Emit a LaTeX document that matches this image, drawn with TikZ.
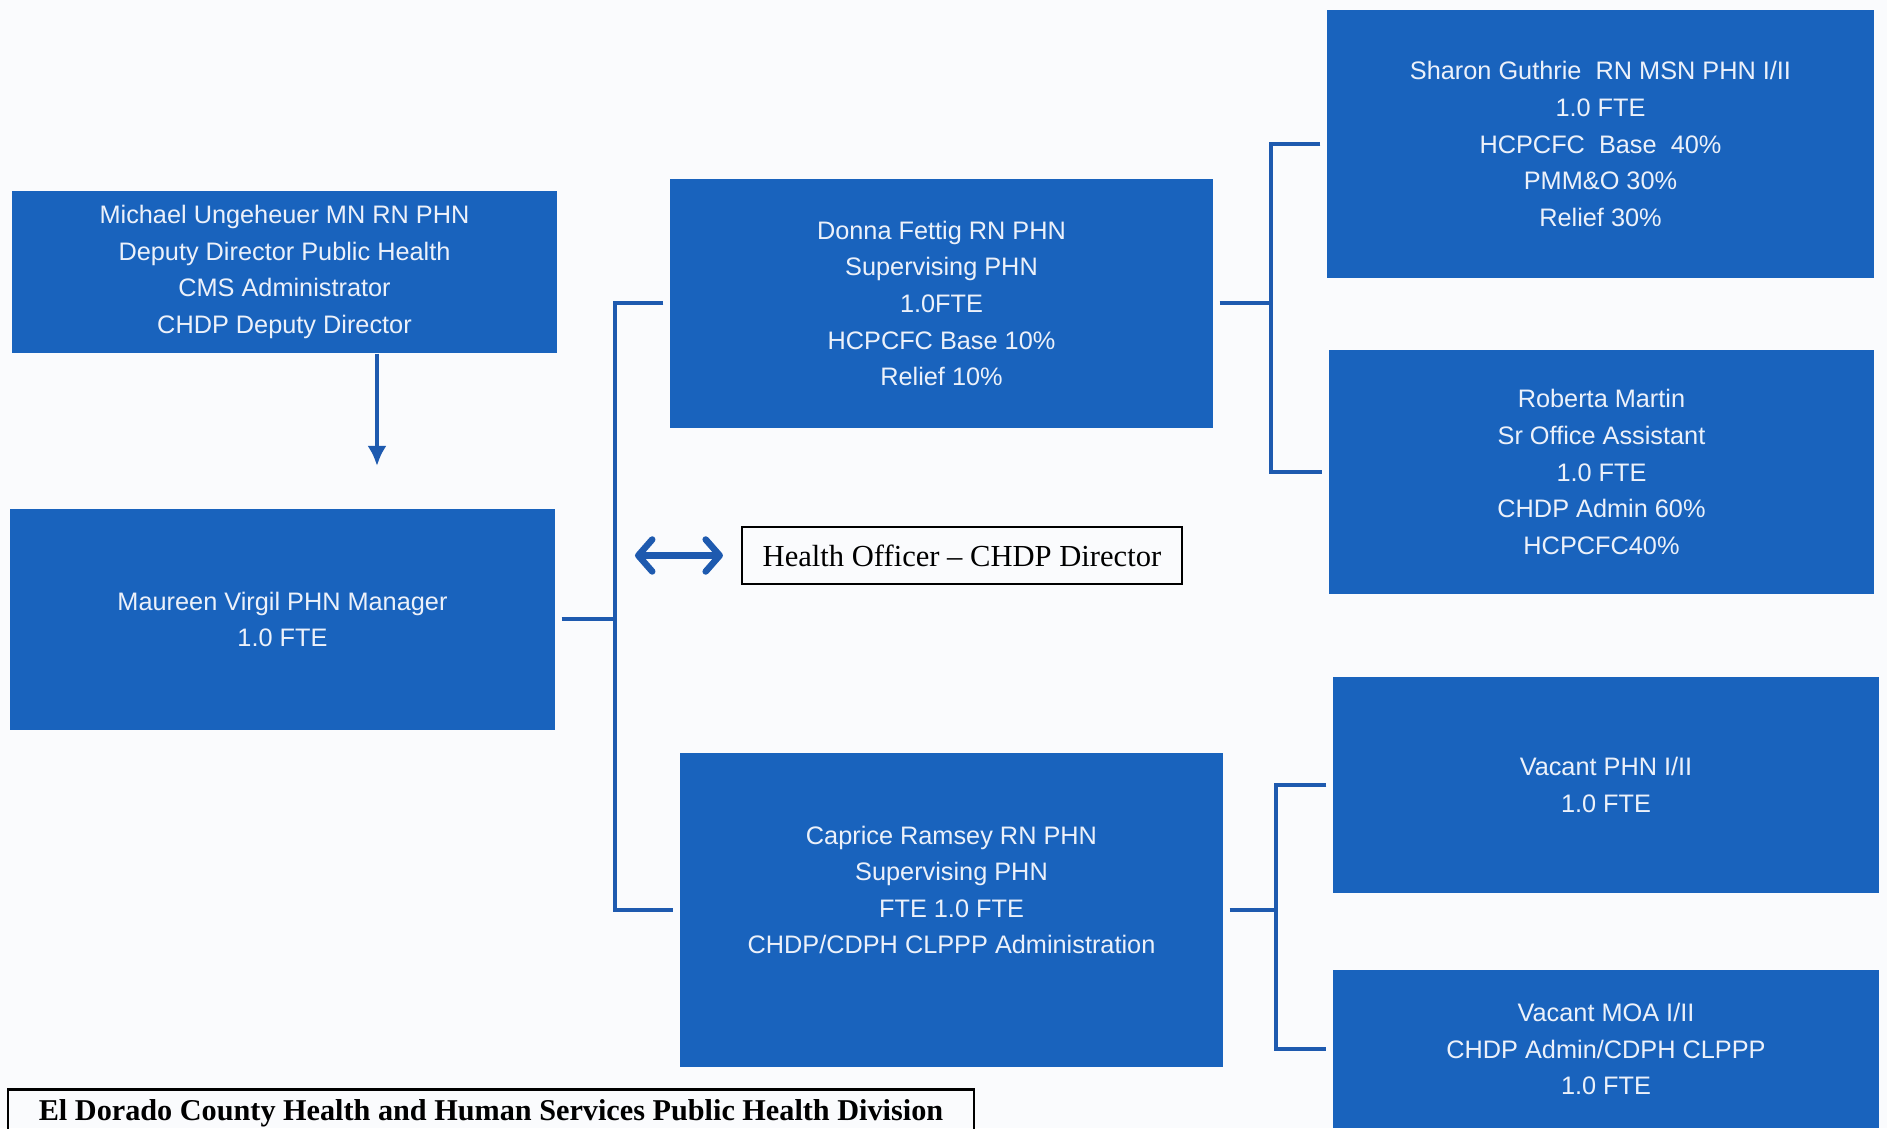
\documentclass[tikz,border=0pt]{standalone}
\usepackage{fontspec}
\setmainfont{Liberation Serif}
\setsansfont{Liberation Sans}
\usetikzlibrary{arrows.meta}
\usetikzlibrary{calc,positioning}

\definecolor{boxblue}{RGB}{25,99,189}
\definecolor{lineblue}{RGB}{30,90,175}
\definecolor{boxtext}{RGB}{236,241,250}
\definecolor{paper}{RGB}{250,251,253}

\tikzset{
  staff/.style={fill=boxblue, text=boxtext, align=center, inner sep=0pt,
    font=\sffamily\fontsize{7.2}{10.4}\selectfont},
  link/.style={draw=lineblue, line width=0.04cm, shorten <=0.06cm, shorten >=0.06cm},
  officer/.style={draw=black, line width=0.6pt, inner sep=0pt,
    font=\fontsize{8.7}{10}\selectfont},
}

\begin{document}
\begin{tikzpicture}
    \useasboundingbox (0,0) rectangle (18.87,11.28);
    \clip (0,0) rectangle (18.87,11.28);
    \fill[paper] (0,0) rectangle (18.87,11.28);

    % left column
    \node[staff, minimum width=5.45cm, minimum height=1.62cm] (michael) at (2.845,8.56) {Michael Ungeheuer MN RN PHN\\
        Deputy Director Public Health\\
        CMS Administrator\\
        CHDP Deputy Director};
    \node[staff, minimum width=5.45cm, minimum height=2.21cm] (maureen) at (2.825,5.085) {Maureen Virgil PHN Manager\\
        1.0 FTE};

    % supervising PHNs
    \node[staff, minimum width=5.43cm, minimum height=2.49cm] (donna) at (9.415,8.245) {Donna Fettig RN PHN\\
        Supervising PHN\\
        1.0FTE\\
        HCPCFC Base 10\%\\
        Relief 10\%};
    \node[staff, minimum width=5.43cm, minimum height=3.14cm] (caprice) at (9.515,2.18) {};
    \node[staff, fill=none] (capricetext) at (9.515,2.38) {Caprice Ramsey RN PHN\\
        Supervising PHN\\
        FTE 1.0 FTE\\
        CHDP/CDPH CLPPP Administration};

    % right column
    \node[staff, minimum width=5.47cm, minimum height=2.68cm] (sharon) at (16.005,9.84) {Sharon Guthrie~ RN MSN PHN I/II\\
        1.0 FTE\\
        HCPCFC~ Base~ 40\%\\
        PMM\&O 30\%\\
        Relief 30\%};
    \node[staff, minimum width=5.45cm, minimum height=2.44cm] (roberta) at (16.015,6.56) {Roberta Martin\\
        Sr Office Assistant\\
        1.0 FTE\\
        CHDP Admin 60\%\\
        HCPCFC40\%};
    \node[staff, minimum width=5.46cm, minimum height=2.16cm] (vacphn) at (16.06,3.43) {Vacant PHN I/II\\
        1.0 FTE};
    \node[staff, minimum width=5.46cm, minimum height=1.58cm] (vacmoa) at (16.06,0.79) {Vacant MOA I/II\\
        CHDP Admin/CDPH CLPPP\\
        1.0 FTE};

    % framed labels
    \node[officer, minimum width=4.40cm, minimum height=0.57cm] (health) at (9.62,5.725) {Health Officer \textendash{} CHDP Director};
    \node[officer, line width=0.7pt, font=\bfseries\fontsize{8.6}{10}\selectfont, minimum width=9.66cm,
        text height=0.21cm, inner ysep=0.1cm, anchor=base] (title) at (4.91,0.075) {El Dorado County Health and Human Services Public Health Division};

    % connectors
    \coordinate (mdown) at (3.77,6.62);
    \draw[link, shorten <=0pt, shorten >=0pt, -{Latex[length=0.2cm,width=0.19cm]}] (michael.south -| mdown) -- (mdown);

    \coordinate (ljoin) at (6.15,0);
    \draw[link, shorten >=0pt] (maureen.east) -- (maureen.east -| ljoin);
    \draw[link] (donna.west) -| (ljoin |- maureen.east) |- (caprice.west);

    \coordinate (rjoin) at (12.71,0);
    \draw[link, shorten >=0pt] (donna.east) -- (donna.east -| rjoin);
    \draw[link] (sharon.west) -| (rjoin |- roberta.west) -- (roberta.west);

    \coordinate (bjoin) at (12.76,0);
    \draw[link, shorten >=0pt] (caprice.east) -- (caprice.east -| bjoin);
    \draw[link] (vacphn.west) -| (bjoin |- vacmoa.west) -- (vacmoa.west);

    \coordinate (hleft) at (6.35,5.725);
    \draw[draw=lineblue, line width=0.065cm,
        {Straight Barb[length=0.14cm,width=0.32cm,round]}-{Straight Barb[length=0.14cm,width=0.32cm,round]}]
        (hleft) -- ([xshift=-0.18cm]health.west);
\end{tikzpicture}
\end{document}
